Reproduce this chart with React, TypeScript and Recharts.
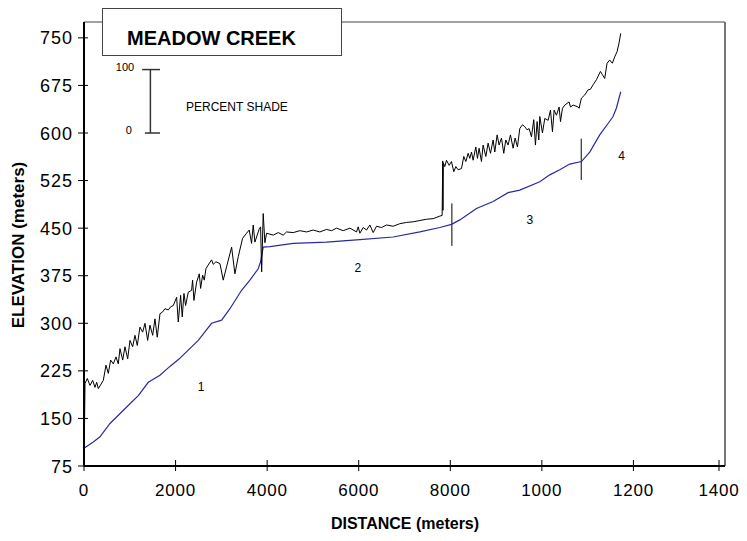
import React from 'react';
import { LineChart, Line, XAxis, YAxis, ReferenceLine, ReferenceDot } from 'recharts';

// Chart frame (chart sits inside the 8px body margin)
const CHART_W = 731;
const CHART_H = 525;
const PLOT_LEFT = 76;
const PLOT_BOTTOM = 458;
const FONT = 'Arial, "Liberation Sans", Helvetica, sans-serif';

// Upper profile (black): distance (m), elevation (m)
const upperProfile: [number, number][] = [
  [10, 131], [22, 205], [72, 213], [131, 202], [189, 210], [240, 199], [277, 207], [313, 197],
  [422, 210], [480, 234], [531, 221], [582, 242], [640, 236], [699, 247], [749, 236], [786, 260],
  [845, 242], [895, 263], [954, 244], [1004, 273], [1063, 263], [1113, 281], [1164, 265], [1222, 294],
  [1281, 286], [1332, 300], [1390, 273], [1441, 297], [1500, 281], [1550, 307], [1600, 278], [1659, 315],
  [1718, 318], [1768, 323], [1841, 321], [1892, 326], [1950, 328], [2023, 341], [2059, 302], [2110, 344],
  [2146, 310], [2183, 347], [2219, 328], [2277, 349], [2350, 352], [2372, 368], [2401, 336], [2460, 365],
  [2518, 378], [2547, 355], [2591, 376], [2627, 368], [2663, 386], [2714, 392], [2787, 400], [2823, 393],
  [2881, 397], [2969, 394], [3041, 368], [3114, 389], [3224, 420], [3296, 378], [3369, 405], [3464, 434],
  [3551, 442], [3609, 447], [3660, 426], [3696, 455], [3733, 428], [3828, 449], [3857, 452], [3880, 381],
  [3914, 473], [3951, 427], [3988, 442], [4133, 439], [4242, 443], [4351, 439], [4424, 444], [4569, 443],
  [4715, 446], [4861, 444], [5006, 447], [5152, 444], [5297, 448], [5407, 446], [5516, 450], [5661, 446],
  [5807, 450], [5953, 444], [5989, 452], [6025, 442], [6098, 451], [6171, 447], [6244, 455], [6316, 443],
  [6389, 453], [6498, 451], [6607, 455], [6752, 453], [6898, 457], [7044, 459], [7189, 460], [7335, 462],
  [7480, 464], [7626, 465], [7772, 469], [7822, 470], [7835, 556], [7840, 478], [7848, 553], [7880, 547],
  [7917, 557], [7975, 549], [8026, 555], [8077, 539], [8121, 547], [8172, 542], [8245, 544], [8295, 563],
  [8339, 555], [8390, 568], [8426, 560], [8463, 570], [8499, 557], [8557, 578], [8594, 560], [8629, 576],
  [8681, 555], [8717, 581], [8776, 563], [8826, 584], [8878, 568], [8935, 589], [8972, 570], [9023, 597],
  [9066, 581], [9118, 592], [9168, 568], [9212, 589], [9262, 581], [9314, 597], [9372, 576], [9416, 592],
  [9467, 578], [9518, 607], [9576, 613], [9627, 610], [9678, 605], [9721, 607], [9773, 594], [9823, 621],
  [9860, 581], [9896, 618], [9933, 589], [9955, 626], [10013, 600], [10064, 623], [10137, 620], [10188, 636],
  [10232, 602], [10268, 636], [10319, 628], [10377, 641], [10407, 618], [10450, 639], [10501, 644], [10595, 649],
  [10625, 641], [10683, 644], [10792, 641], [10813, 639], [10864, 655], [10937, 660], [11009, 668], [11061, 669],
  [11119, 676], [11192, 684], [11279, 697], [11322, 692], [11373, 686], [11424, 710], [11482, 715], [11540, 710],
  [11591, 720], [11642, 728], [11686, 742], [11723, 757],
];

// Stream bed profile (blue)
const bedProfile: [number, number][] = [
  [0, 103], [203, 113], [349, 121], [568, 142], [750, 155], [932, 168], [1186, 186], [1404, 207],
  [1659, 218], [1877, 232], [2081, 244], [2495, 273], [2787, 300], [3006, 305], [3187, 323], [3442, 352],
  [3624, 368], [3805, 386], [3857, 397], [3914, 420], [4060, 421], [4569, 426], [5297, 428], [6025, 432],
  [6752, 436], [7335, 444], [7772, 451], [8026, 456], [8208, 463], [8572, 481], [8935, 492], [9263, 506],
  [9518, 510], [9955, 523], [10173, 534], [10391, 542], [10609, 551], [10864, 555], [11046, 570], [11264, 597],
  [11446, 615], [11555, 626], [11627, 639], [11723, 665],
];

// Reach boundaries: distance, bottom, top
const reachBreaks: [number, number, number][] = [
  [8035, 422, 489],
  [10860, 526, 591],
];

// Reach numbers: label, distance, elevation
const reachLabels: [string, number, number][] = [
  ['1', 2555, 200],
  ['2', 5981, 387],
  ['3', 9736, 464],
  ['4', 11744, 565],
];

const xTicks = [0, 2000, 4000, 6000, 8000, 10000, 12000, 14000];
const xTickLabels = ['0', '2000', '4000', '6000', '8000', '1000', '1200', '1400'];
const yTicks = [75, 150, 225, 300, 375, 450, 525, 600, 675, 750];

const upperData = upperProfile.map(([d, e]) => ({ d, e }));
const bedData = bedProfile.map(([d, e]) => ({ d, e }));

const YTick = ({ y, payload }: any) => (
  <g>
    <line x1={PLOT_LEFT - 6} x2={PLOT_LEFT + 4} y1={y} y2={y} stroke="#000" strokeWidth={1} />
    <text x={PLOT_LEFT - 11} y={y} dy={6.5} textAnchor="end" fontSize={18} letterSpacing={1} fill="#000" fontFamily={FONT}>
      {payload.value}
    </text>
  </g>
);

const XTick = ({ x, payload }: any) => {
  const i = xTicks.indexOf(payload.value);
  return (
    <g>
      <line x1={x} x2={x} y1={PLOT_BOTTOM - 6} y2={PLOT_BOTTOM + 5} stroke="#000" strokeWidth={1} />
      <text x={x} y={PLOT_BOTTOM + 30} textAnchor="middle" fontSize={17} letterSpacing={0.8} fill="#000" fontFamily={FONT}>
        {i >= 0 ? xTickLabels[i] : payload.value}
      </text>
    </g>
  );
};

// centred plain text at a reference dot
const textLabel = (value: string, size: number) => ({
  content: ({ viewBox }: any) => {
    const cx = viewBox.x + (viewBox.width || 0) / 2;
    const cy = viewBox.y + (viewBox.height || 0) / 2;
    return (
      <text x={cx} y={cy} dy={size * 0.36} textAnchor="middle" fontSize={size} fill="#000" fontFamily={FONT}>
        {value}
      </text>
    );
  },
});

export default function App() {
  return (
    <div style={{ position: 'relative', width: CHART_W, height: CHART_H }}>
      <LineChart width={CHART_W} height={CHART_H} margin={{ top: 14, right: 14, left: 0, bottom: 0 }}>
        <XAxis
          dataKey="d"
          type="number"
          domain={[0, 14000]}
          ticks={xTicks}
          tick={<XTick />}
          tickLine={false}
          axisLine={{ stroke: '#000', strokeWidth: 2 }}
          height={67}
          label={{
            content: () => (
              <text x={397} y={521} textAnchor="middle" fontSize={16} fontWeight="bold" fill="#000" fontFamily={FONT}>
                DISTANCE (meters)
              </text>
            ),
          }}
        />
        <YAxis
          type="number"
          domain={[75, 775]}
          ticks={yTicks}
          tick={<YTick />}
          tickLine={false}
          axisLine={{ stroke: '#000', strokeWidth: 2 }}
          width={76}
          allowDataOverflow
          label={{
            content: () => (
              <text transform="translate(16,237) rotate(-90)" textAnchor="middle" fontSize={17} fontWeight="bold" fill="#000" fontFamily={FONT}>
                ELEVATION (meters)
              </text>
            ),
          }}
        />
        {/* frame top and right */}
        <ReferenceLine y={775} stroke="#444" strokeWidth={1} />
        <ReferenceLine x={14000} stroke="#777" strokeWidth={2} />

        {/* percent shade scale */}
        <ReferenceLine segment={[{ x: 1450, y: 600 }, { x: 1450, y: 700 }]} stroke="#333" strokeWidth={1.5} />
        <ReferenceLine segment={[{ x: 1270, y: 700 }, { x: 1660, y: 700 }]} stroke="#333" strokeWidth={1.5} />
        <ReferenceLine segment={[{ x: 1330, y: 600 }, { x: 1660, y: 600 }]} stroke="#333" strokeWidth={1.5} />
        <ReferenceDot x={895} y={704} r={0} fill="none" stroke="none" label={textLabel('100', 11)} />
        <ReferenceDot x={980} y={605} r={0} fill="none" stroke="none" label={textLabel('0', 11)} />
        <ReferenceDot x={3340} y={642} r={0} fill="none" stroke="none" label={textLabel('PERCENT SHADE', 12)} />

        {reachBreaks.map(([d, lo, hi]) => (
          <ReferenceLine key={d} segment={[{ x: d, y: lo }, { x: d, y: hi }]} stroke="#000" strokeWidth={1} />
        ))}
        {reachLabels.map(([t, d, e]) => (
          <ReferenceDot key={t} x={d} y={e} r={0} fill="none" stroke="none" label={textLabel(t, 12)} />
        ))}

        <Line data={bedData} dataKey="e" type="linear" stroke="#2a2a9e" strokeWidth={1.2} dot={false} activeDot={false} isAnimationActive={false} />
        <Line data={upperData} dataKey="e" type="linear" stroke="#000" strokeWidth={1} dot={false} activeDot={false} isAnimationActive={false} />
      </LineChart>
      <div
        style={{
          position: 'absolute',
          left: 94,
          top: 0,
          width: 240,
          height: 48,
          boxSizing: 'border-box',
          border: '1px solid #444',
          background: '#fff',
        }}
      >
        <svg width={238} height={46} style={{ display: 'block' }}>
          <text x={24} y={36} fontSize={20} fontWeight="bold" fill="#000" fontFamily={FONT}>
            MEADOW CREEK
          </text>
        </svg>
      </div>
    </div>
  );
}
